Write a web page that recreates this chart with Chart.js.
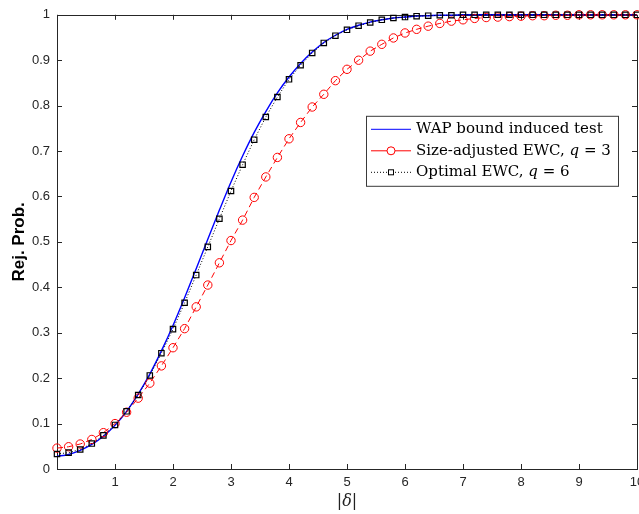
<!DOCTYPE html>
<html lang="en">
<head>
    <meta charset="UTF-8">
    <title>Rej. Prob. vs |δ|</title>
    <style>
        html, body {
            margin: 0;
            padding: 0;
            background: #fff;
            overflow: hidden;
        }
        .wrap {
            position: relative;
            width: 660px;
            height: 514px;
        }
    </style>
</head>
<body>
    <div class="wrap">
        <canvas id="chart" width="660" height="514"></canvas>
    </div>

    <script src="https://cdn.jsdelivr.net/npm/chart.js"></script>
    <script>
        // |delta| grid
        const delta = [0, 0.2, 0.4, 0.6, 0.8, 1, 1.2, 1.4, 1.6, 1.8, 2, 2.2, 2.4, 2.6, 2.8, 3, 3.2, 3.4, 3.6, 3.8,
            4, 4.2, 4.4, 4.6, 4.8, 5, 5.2, 5.4, 5.6, 5.8, 6, 6.2, 6.4, 6.6, 6.8, 7, 7.2, 7.4, 7.6, 7.8,
            8, 8.2, 8.4, 8.6, 8.8, 9, 9.2, 9.4, 9.6, 9.8, 10];

        const wapBound = [0.028, 0.032, 0.041, 0.054, 0.072, 0.096, 0.127, 0.165, 0.209, 0.260,
            0.316, 0.377, 0.441, 0.506, 0.570, 0.632, 0.689, 0.741, 0.787, 0.828,
            0.863, 0.893, 0.918, 0.939, 0.955, 0.968, 0.977, 0.984, 0.989, 0.993,
            0.995, 0.997, 0.998, 0.999, 0.999, 1, 1, 1, 1, 1,
            1, 1, 1, 1, 1, 1, 1, 1, 1, 1, 1];

        const sizeAdjEwc = [0.046, 0.049, 0.055, 0.065, 0.080, 0.100, 0.125, 0.156, 0.189, 0.227,
            0.267, 0.309, 0.357, 0.405, 0.454, 0.503, 0.548, 0.598, 0.643, 0.686,
            0.727, 0.763, 0.797, 0.825, 0.855, 0.880, 0.900, 0.920, 0.935, 0.949,
            0.960, 0.968, 0.975, 0.981, 0.986, 0.989, 0.992, 0.994, 0.995, 0.996,
            0.997, 0.998, 0.998, 0.999, 0.999, 1, 1, 1, 1, 1, 1];

        const optimalEwc = [0.033, 0.036, 0.043, 0.056, 0.074, 0.097, 0.127, 0.163, 0.206, 0.255,
            0.308, 0.366, 0.427, 0.489, 0.551, 0.612, 0.670, 0.725, 0.775, 0.819,
            0.858, 0.889, 0.916, 0.938, 0.954, 0.967, 0.976, 0.983, 0.989, 0.993,
            0.995, 0.997, 0.998, 0.999, 0.999, 1, 1, 1, 1, 1,
            1, 1, 1, 1, 1, 1, 1, 1, 1, 1, 1];

        const xTickLabels = ['', '1', '2', '3', '4', '5', '6', '7', '8', '9', '10'];
        const yTickLabels = ['0', '0.1', '0.2', '0.3', '0.4', '0.5', '0.6', '0.7', '0.8', '0.9', '1'];

        const legendItems = [
            { pre: 'WAP bound induced test', q: '', post: '', color: '#0000ff', dash: [], marker: null },
            { pre: 'Size-adjusted EWC, ', q: 'q', post: ' = 3', color: '#ff0000', dash: [], marker: 'circle' },
            { pre: 'Optimal EWC, ', q: 'q', post: ' = 6', color: '#000000', dash: [1, 2], marker: 'rect' }
        ];

        const axisColor = '#262626';

        function toPoints(ys) {
            return delta.map((x, i) => ({ x: x, y: ys[i] }));
        }

        // box + inward tick marks (MATLAB style)
        const boxPlugin = {
            id: 'box',
            beforeDatasetsDraw(chart) {
                const { ctx, chartArea: a, scales } = chart;
                const len = 5;
                ctx.save();
                ctx.strokeStyle = axisColor;
                ctx.lineWidth = 1;
                ctx.beginPath();
                scales.x.ticks.forEach(t => {
                    const px = Math.round(scales.x.getPixelForValue(t.value)) + 0.5;
                    ctx.moveTo(px, a.bottom);
                    ctx.lineTo(px, a.bottom - len);
                    ctx.moveTo(px, a.top);
                    ctx.lineTo(px, a.top + len);
                });
                scales.y.ticks.forEach(t => {
                    const py = Math.round(scales.y.getPixelForValue(t.value)) + 0.5;
                    ctx.moveTo(a.left, py);
                    ctx.lineTo(a.left + len, py);
                    ctx.moveTo(a.right, py);
                    ctx.lineTo(a.right - len, py);
                });
                ctx.stroke();
                ctx.strokeRect(Math.round(a.left) + 0.5, Math.round(a.top) + 0.5,
                    Math.round(a.right - a.left), Math.round(a.bottom - a.top));
                ctx.restore();
            }
        };

        // legend box inside the plot
        const legendPlugin = {
            id: 'boxLegend',
            afterDatasetsDraw(chart) {
                const { ctx, chartArea: a } = chart;
                const bx = a.left + 309, by = a.top + 101, bw = 252, bh = 70;
                ctx.save();
                ctx.fillStyle = '#fff';
                ctx.fillRect(bx, by, bw, bh);
                ctx.strokeStyle = '#3a3a3a';
                ctx.lineWidth = 1;
                ctx.strokeRect(bx + 0.5, by + 0.5, bw, bh);

                legendItems.forEach((it, i) => {
                    const cy = by + 13.5 + i * 21.5;
                    const x0 = bx + 5, x1 = bx + 45, xm = (x0 + x1) / 2;
                    ctx.strokeStyle = it.color;
                    ctx.lineWidth = 1;
                    ctx.setLineDash(it.dash);
                    ctx.beginPath();
                    ctx.moveTo(x0, cy);
                    ctx.lineTo(x1, cy);
                    ctx.stroke();
                    ctx.setLineDash([]);
                    if (it.marker === 'circle') {
                        ctx.fillStyle = '#fff';
                        ctx.beginPath();
                        ctx.arc(xm, cy, 4, 0, Math.PI * 2);
                        ctx.fill();
                        ctx.stroke();
                    } else if (it.marker === 'rect') {
                        ctx.fillStyle = '#fff';
                        ctx.fillRect(xm - 2.5, cy - 2.5, 5, 5);
                        ctx.strokeRect(xm - 2.5, cy - 2.5, 5, 5);
                    }
                    ctx.fillStyle = '#000';
                    ctx.textBaseline = 'middle';
                    ctx.textAlign = 'left';
                    let tx = bx + 50;
                    ctx.font = '15px "DejaVu Serif"';
                    ctx.fillText(it.pre, tx, cy);
                    tx += ctx.measureText(it.pre).width;
                    if (it.q) {
                        ctx.font = 'italic 15px "DejaVu Serif"';
                        ctx.fillText(it.q, tx, cy);
                        tx += ctx.measureText(it.q).width;
                        ctx.font = '15px "DejaVu Serif"';
                        ctx.fillText(it.post, tx, cy);
                    }
                });
                ctx.restore();
            }
        };

        const ctx = document.getElementById('chart').getContext('2d');
        new Chart(ctx, {
            type: 'line',
            data: {
                datasets: [
                    {
                        label: 'Optimal EWC, q = 6',
                        data: toPoints(optimalEwc),
                        borderColor: '#000',
                        borderWidth: 1,
                        borderDash: [1, 2],
                        pointStyle: 'rect',
                        pointRadius: 3.8,
                        pointBorderColor: '#000',
                        pointBackgroundColor: 'rgba(0,0,0,0)',
                        pointBorderWidth: 1.2,
                        order: 0,
                        clip: false
                    },
                    {
                        label: 'Size-adjusted EWC, q = 3',
                        data: toPoints(sizeAdjEwc),
                        borderColor: '#ff0000',
                        borderWidth: 1,
                        borderDash: [6, 4],
                        pointStyle: 'circle',
                        pointRadius: 4.2,
                        pointBorderColor: '#ff0000',
                        pointBackgroundColor: 'rgba(0,0,0,0)',
                        pointBorderWidth: 1,
                        order: 1,
                        clip: false
                    },
                    {
                        label: 'WAP bound induced test',
                        data: toPoints(wapBound),
                        borderColor: '#0000ff',
                        borderWidth: 1.4,
                        pointRadius: 0,
                        cubicInterpolationMode: 'monotone',
                        order: 2,
                        clip: false
                    }
                ]
            },
            options: {
                responsive: false,
                animation: false,
                layout: { padding: { top: 11, right: 23, left: 0, bottom: 0 } },
                plugins: {
                    legend: { display: false },
                    tooltip: { enabled: false }
                },
                scales: {
                    x: {
                        type: 'linear',
                        min: 0,
                        max: 10,
                        grid: { display: false, drawTicks: false },
                        border: { display: false },
                        ticks: {
                            stepSize: 1,
                            padding: 6,
                            color: axisColor,
                            font: { family: '"Liberation Sans", Arial, sans-serif', size: 13 },
                            maxRotation: 0,
                            callback: (v, i) => xTickLabels[Math.round(v)]
                        },
                        title: {
                            display: true,
                            text: '|δ|',
                            color: '#222',
                            font: { family: '"DejaVu Serif", serif', size: 16, style: 'italic' },
                            padding: { top: 0, bottom: 3 }
                        },
                        afterFit: s => { s.height = 45; }
                    },
                    y: {
                        min: 0,
                        max: 1,
                        grid: { display: false, drawTicks: false },
                        border: { display: false },
                        ticks: {
                            stepSize: 0.1,
                            padding: 7,
                            color: axisColor,
                            font: { family: '"Liberation Sans", Arial, sans-serif', size: 13 },
                            callback: v => yTickLabels[Math.round(v * 10)]
                        },
                        title: {
                            display: true,
                            text: 'Rej. Prob.',
                            color: '#000',
                            font: { family: '"Liberation Sans", Arial, sans-serif', size: 17, weight: 'bold' },
                            padding: { top: 9, bottom: 0 }
                        },
                        afterFit: s => { s.width = 57; }
                    }
                }
            },
            plugins: [boxPlugin, legendPlugin]
        });
    </script>
</body>
</html>
